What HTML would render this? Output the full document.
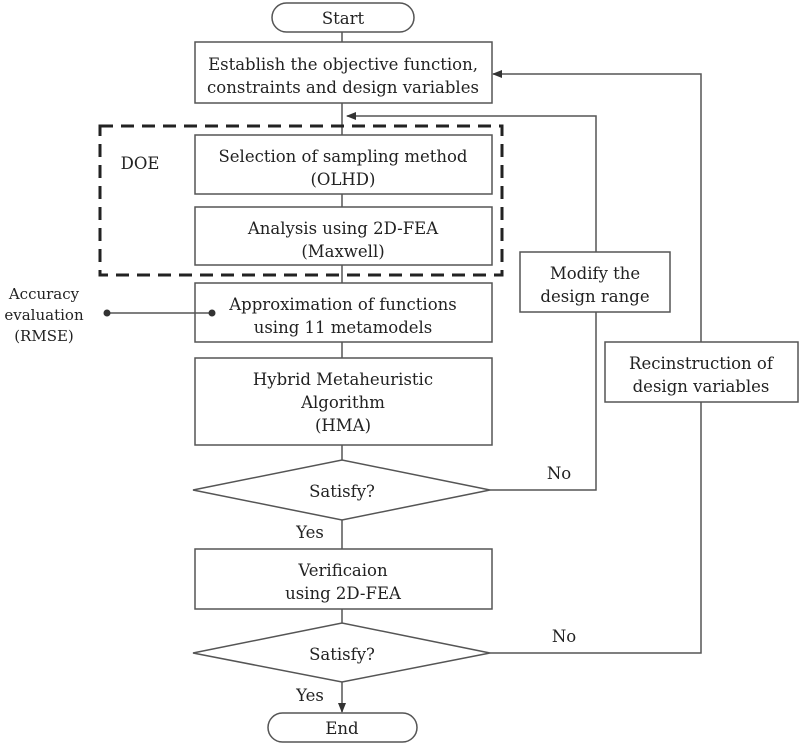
<!DOCTYPE html>
<html><head><meta charset="utf-8"><style>
html,body{margin:0;padding:0;background:#fff;}
svg{display:block;}
text{font-family:"DejaVu Serif",serif;font-size:16.5px;fill:#222;text-anchor:middle;}
text.s{font-size:15px;}
</style></head><body>
<svg width="800" height="744" viewBox="0 0 800 744" xmlns="http://www.w3.org/2000/svg">
<defs><marker id="a" markerWidth="10" markerHeight="8" refX="9" refY="4" orient="auto" markerUnits="userSpaceOnUse"><path d="M0,0 L10,4 L0,8 z" fill="#333"/></marker></defs>
<g stroke="#555" stroke-width="1.5" fill="#fff">
<line x1="342" y1="32" x2="342" y2="42"/>
<line x1="342" y1="103" x2="342" y2="135"/>
<line x1="342" y1="194" x2="342" y2="207"/>
<line x1="342" y1="265" x2="342" y2="283"/>
<line x1="342" y1="342" x2="342" y2="358"/>
<line x1="342" y1="445" x2="342" y2="460"/>
<line x1="342" y1="520" x2="342" y2="549"/>
<line x1="342" y1="609" x2="342" y2="623"/>
<line x1="342" y1="682" x2="342" y2="712" marker-end="url(#a)"/>
<polyline fill="none" points="490,490 596,490 596,116 347,116" marker-end="url(#a)"/>
<polyline fill="none" points="490,653 701,653 701,74 493,74" marker-end="url(#a)"/>
<rect x="272" y="3" width="142" height="29" rx="14.5"/>
<rect x="195" y="42" width="297" height="61"/>
<rect x="195" y="135" width="297" height="59"/>
<rect x="195" y="207" width="297" height="58"/>
<rect x="195" y="283" width="297" height="59"/>
<rect x="195" y="358" width="297" height="87"/>
<polygon points="193,490 342,460 490,490 342,520"/>
<rect x="195" y="549" width="297" height="60"/>
<polygon points="193,653 342,623 490,653 342,682"/>
<rect x="268" y="713" width="149" height="29" rx="14.5"/>
<rect x="520" y="252" width="150" height="60"/>
<rect x="605" y="342" width="193" height="60"/>
<rect x="100" y="126" width="402" height="149" fill="none" stroke="#222" stroke-width="3" stroke-dasharray="13,8"/>
<line x1="107" y1="313" x2="212" y2="313"/>
</g>
<circle cx="107" cy="313" r="3.5" fill="#333"/>
<circle cx="212" cy="313" r="3.5" fill="#333"/>
<text x="343" y="24">Start</text>
<text x="343" y="70">Establish the objective function,</text>
<text x="343" y="93">constraints and design variables</text>
<text x="140" y="169">DOE</text>
<text x="343" y="162">Selection of sampling method</text>
<text x="343" y="185">(OLHD)</text>
<text x="343" y="234">Analysis using 2D-FEA</text>
<text x="343" y="257">(Maxwell)</text>
<text x="343" y="310">Approximation of functions</text>
<text x="343" y="333">using 11 metamodels</text>
<text x="343" y="385">Hybrid Metaheuristic</text>
<text x="343" y="408">Algorithm</text>
<text x="343" y="431">(HMA)</text>
<text x="342" y="497">Satisfy?</text>
<text x="310" y="538">Yes</text>
<text x="343" y="576">Verificaion</text>
<text x="343" y="599">using 2D-FEA</text>
<text x="342" y="660">Satisfy?</text>
<text x="310" y="701">Yes</text>
<text x="342" y="734">End</text>
<text x="559" y="479">No</text>
<text x="564" y="642">No</text>
<text x="595" y="279">Modify the</text>
<text x="595" y="302">design range</text>
<text x="701" y="369">Recinstruction of</text>
<text x="701" y="392">design variables</text>
<text class="s" x="44" y="299">Accuracy</text>
<text class="s" x="44" y="320">evaluation</text>
<text class="s" x="44" y="341">(RMSE)</text>
</svg>
</body></html>
